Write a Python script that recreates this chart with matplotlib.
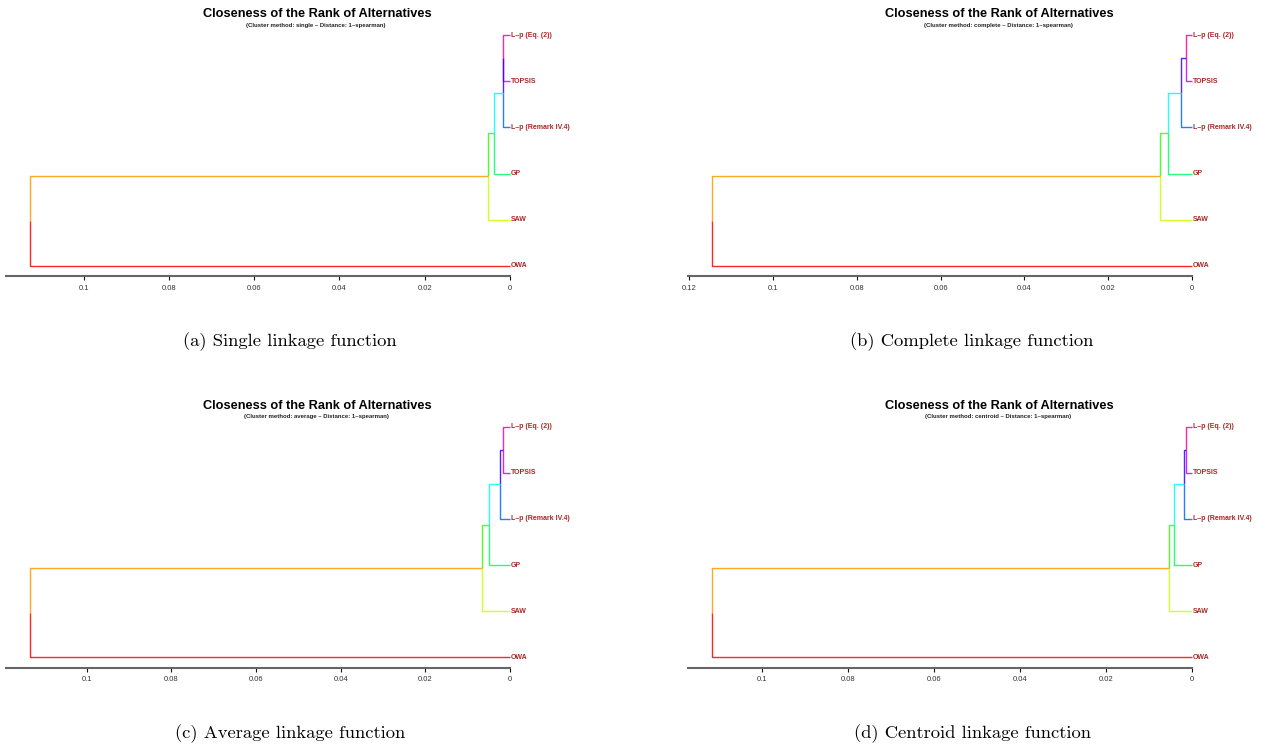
import matplotlib
matplotlib.use("Agg")
import matplotlib.pyplot as plt
from matplotlib.ticker import MultipleLocator, FuncFormatter

plt.rcParams['font.family'] = ['Liberation Sans', 'DejaVu Sans']

W, H = 1262, 749

# leaves from bottom to top
leaf_names = ["OWA", "SAW", "GP", "L–p (Remark IV.4)", "TOPSIS", "L–p (Eq. (2))"]

methods = ["single", "complete", "average", "centroid"]
captions = ["(a) Single linkage function", "(b) Complete linkage function",
            "(c) Average linkage function", "(d) Centroid linkage function"]

# merge heights: A=(Eq2,TOPSIS), B=(A,Remark), C=(B,GP), D=(C,SAW), root=(D,OWA)
single_h = [0.00157, 0.00171, 0.00368, 0.00522, 0.1126]
complete_h = [0.0015, 0.0027, 0.0058, 0.0076, 0.1146]
average_h = [0.00158, 0.00229, 0.00496, 0.00668, 0.1134]
centroid_h = [0.00146, 0.00179, 0.00425, 0.00527, 0.1116]
all_heights = [single_h, complete_h, average_h, centroid_h]

# rainbow(10) style branch colours
col = {"OWA": "#FF0000", "D": "#FF9900", "SAW": "#CCFF00", "C": "#33FF00",
       "GP": "#00FF66", "B": "#00FFFF", "L–p (Remark IV.4)": "#0066FF",
       "A": "#3300FF", "TOPSIS": "#CC00FF", "L–p (Eq. (2))": "#FF0099"}

offsets = [(0, 0), (682, 0), (0, 391.5), (682, 391.5)]

fig = plt.figure(figsize=(W / 100, H / 100), dpi=100)


def px_axes(left, top, width, height):
    return fig.add_axes([left / W, 1 - (top + height) / H, width / W, height / H])


for method, hts, cap, (ox, oy) in zip(methods, all_heights, captions, offsets):
    hA, hB, hC, hD, hR = hts
    ypos = {name: i + 1 for i, name in enumerate(leaf_names)}
    hpos = {name: 0.0 for name in leaf_names}
    # internal nodes
    tree = [("A", "L–p (Eq. (2))", "TOPSIS", hA),
            ("B", "A", "L–p (Remark IV.4)", hB),
            ("C", "B", "GP", hC),
            ("D", "C", "SAW", hD),
            ("R", "D", "OWA", hR)]
    edges = []
    for node, c1, c2, h in tree:
        ypos[node] = (ypos[c1] + ypos[c2]) / 2
        hpos[node] = h
        edges.append((node, c1))
        edges.append((node, c2))

    ax = px_axes(6 + ox, 25 + oy, 504, 251)
    for parent, child in edges:
        xp, yp = hpos[parent], ypos[parent]
        xc, yc = hpos[child], ypos[child]
        ax.plot([xp, xp, xc], [yp, yc, yc], color=col[child], lw=1.0,
                alpha=0.85, solid_capstyle='butt', clip_on=False)

    for name in leaf_names:
        ax.annotate(name, (0, ypos[name]), xytext=(0.8, 0), textcoords='offset points',
                    ha='left', va='center', fontsize=5.0, fontweight='bold',
                    color='#aa2828', annotation_clip=False)

    ax.set_xlim(1.05 * hR, 0)
    ax.set_ylim(0.7835, 6.2165)
    for s in ['top', 'left', 'right']:
        ax.spines[s].set_visible(False)
    ax.spines['bottom'].set_color('#666666')
    ax.spines['bottom'].set_linewidth(1.5)
    ax.set_yticks([])
    ax.xaxis.set_major_locator(MultipleLocator(0.02))
    ax.xaxis.set_major_formatter(FuncFormatter(lambda v, _: f"{round(v, 4):g}"))
    ax.tick_params(axis='x', length=3, width=0.8, pad=3.2, labelsize=5.5,
                   labelcolor='#333333', color='#111111')
    ax.patch.set_visible(False)

    fig.text((317 + ox) / W, 1 - (14 + oy) / H, "Closeness of the Rank of Alternatives",
             ha='center', va='center', fontsize=9.2, fontweight='bold')
    fig.text((316 + ox) / W, 1 - (25 + oy) / H,
             f"(Cluster method: {method} – Distance: 1–spearman)",
             ha='center', va='center', fontsize=4.3, fontweight='bold', color='#222222')
    fig.text((290 + ox) / W, 1 - (342 + oy) / H, cap, ha='center', va='center',
             fontfamily='cmr10', fontsize=13.4)

fig.savefig('out.png', dpi=100)
